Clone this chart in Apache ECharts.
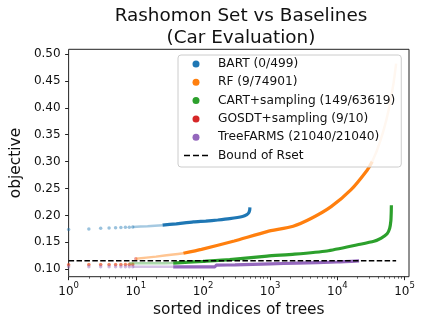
<!DOCTYPE html>
<html>
<head>
<meta charset="utf-8">
<script src="https://cdn.jsdelivr.net/npm/echarts@6/dist/echarts.min.js"></script>
<style>
  html, body { margin: 0; padding: 0; background: #fff; }
  #chart { width: 423px; height: 324px; }
</style>
</head>
<body>
<div id="chart"></div>
<script>
// values: [sorted index, objective]
const bartDots = [[1, 0.174], [2, 0.175], [3, 0.176], [4, 0.1765], [5, 0.177], [6, 0.1775], [7, 0.178], [8, 0.178], [9, 0.1785]];
const bartFaint = [[9, 0.1785], [15, 0.180], [25, 0.182]];
const bartCurve = [[25, 0.182], [40, 0.1845], [72, 0.188], [110, 0.1895], [166, 0.1915], [250, 0.194], [387, 0.198], [450, 0.2015], [480, 0.205], [495, 0.210], [499, 0.215]];

const rfDots = [[1, 0.108], [2, 0.109], [3, 0.109], [4, 0.109], [5, 0.109], [6, 0.109], [7, 0.1095], [8, 0.1095], [9, 0.110]];
const rfFaint = [[10, 0.1197], [20, 0.1235], [36, 0.1275], [51, 0.1297]];
const rfCurve = [[51, 0.1297], [95, 0.137], [292, 0.1526], [900, 0.170], [2200, 0.180], [4115, 0.1948], [8070, 0.2164], [15850, 0.2474], [27900, 0.2846], [33000, 0.300]];
const rfTop = [[33000, 0.300], [39100, 0.3217], [48900, 0.359], [57900, 0.396], [68500, 0.4457], [74901, 0.482]];

const cartFaint = [[8, 0.111], [20, 0.111], [36, 0.1115]];
const cartCurve = [[36, 0.1115], [100, 0.1148], [250, 0.118], [900, 0.1245], [2300, 0.128], [7000, 0.134], [20000, 0.1455], [35000, 0.152], [45000, 0.158], [55000, 0.166], [60000, 0.176], [62500, 0.19], [63300, 0.205], [63619, 0.219]];

const gosdtDots = [[1, 0.1085], [2, 0.1085], [3, 0.1085], [4, 0.1085], [5, 0.1085], [6, 0.1085], [7, 0.1085], [8, 0.1085], [9, 0.1085], [10, 0.1197]];

const tfDots = [[1, 0.1045], [2, 0.1045], [3, 0.1045], [4, 0.1045], [5, 0.1045], [6, 0.1045], [7, 0.1045], [8, 0.1045], [9, 0.1045]];
const tfFaint = [[9, 0.1045], [36, 0.1045]];
const tfCurve = [[36, 0.1045], [150, 0.1045], [158, 0.1077], [300, 0.108], [1000, 0.110], [2500, 0.1115], [10000, 0.1135], [21040, 0.1157]];

const bound = [[1, 0.116], [74901, 0.116]];

const names = ['BART (0/499)', 'RF (9/74901)', 'CART+sampling (149/63619)', 'GOSDT+sampling (9/10)', 'TreeFARMS (21040/21040)', 'Bound of Rset'];
const colors = ['#1f77b4', '#ff7f0e', '#2ca02c', '#d62728', '#9467bd', '#000000'];
const yTicks = [0.10, 0.15, 0.20, 0.25, 0.30, 0.35, 0.40, 0.45, 0.50];
const xTicks = [1, 10, 100, 1000, 10000, 100000];

const FONT = 'DejaVu Sans';

// minor log ticks 2..9 per decade
let xMinor = [];
for (let k = 0; k < 5; k++) {
  for (let m = 2; m < 10; m++) xMinor.push(m * Math.pow(10, k));
}

function dots(i, data) {
  return {
    name: names[i], type: 'scatter', data: data, symbolSize: 3.5, silent: true,
    itemStyle: {color: colors[i], opacity: 0.45}
  };
}
function curve(i, data, width, opacity) {
  return {
    name: names[i], type: 'line', data: data, symbol: 'none', silent: true,
    smooth: 0.2,
    lineStyle: {color: colors[i], width: width, opacity: opacity},
    itemStyle: {color: colors[i]}
  };
}

const chart = echarts.init(document.getElementById('chart'), null, {renderer: 'canvas'});

chart.setOption({
  animation: false,
  textStyle: {fontFamily: FONT},
  title: {
    text: 'Rashomon Set vs Baselines\n(Car Evaluation)',
    left: 236, top: 0, textAlign: 'center',
    textStyle: {fontFamily: FONT, fontSize: 18.4, fontWeight: 'normal', color: '#111', lineHeight: 22}
  },
  grid: {left: 63.5, right: 14, top: 49.3, bottom: 47.3, show: true, borderColor: '#222', borderWidth: 1},
  legend: {
    orient: 'vertical', left: 178, top: 55,
    padding: [2, 6, 4.5, 6], itemGap: 4.3, itemWidth: 24, itemHeight: 7,
    backgroundColor: 'rgba(255,255,255,0.8)', borderColor: '#cccccc', borderWidth: 1, borderRadius: 3,
    selectedMode: false,
    textStyle: {fontFamily: FONT, fontSize: 12.2, lineHeight: 14, color: '#111', padding: [0, 0, 0, 5]},
    data: names.map(function (n, i) {
      return i < 5
        ? {name: n, icon: 'circle', itemStyle: {color: colors[i], opacity: 1}}
        : {name: n, icon: 'path://M0,0h6v1.5h-6z M9,0h6v1.5h-6z M18,0h6v1.5h-6z', itemStyle: {color: '#000', opacity: 1}};
    })
  },
  xAxis: [{
    type: 'log', logBase: 10, min: 1, max: 116400,
    name: 'sorted indices of trees', nameLocation: 'middle', nameGap: 24,
    nameTextStyle: {fontFamily: FONT, fontSize: 15.4, color: '#111'},
    axisLine: {show: false},
    splitLine: {show: false},
    axisTick: {show: true, customValues: xTicks, length: 3.5, lineStyle: {color: '#222', width: 1}},
    axisLabel: {
      customValues: xTicks, margin: 5, color: '#111',
      formatter: function (v) { return '{b|10}{s|' + Math.round(Math.log10(v)) + '}'; },
      rich: {
        b: {fontFamily: FONT, fontSize: 12, lineHeight: 20, color: '#111'},
        s: {fontFamily: FONT, fontSize: 8.5, lineHeight: 8, verticalAlign: 'top', color: '#111'}
      }
    }
  }, {
    type: 'log', logBase: 10, min: 1, max: 116400, position: 'bottom',
    axisLine: {show: false},
    splitLine: {show: false},
    axisTick: {show: true, customValues: xMinor, length: 2, lineStyle: {color: '#222', width: 0.7}},
    axisLabel: {show: false}
  }],
  yAxis: {
    type: 'value', min: 0.0862, max: 0.5087,
    name: 'objective', nameLocation: 'middle', nameGap: 40,
    nameTextStyle: {fontFamily: FONT, fontSize: 15.4, color: '#111'},
    axisLine: {show: false},
    splitLine: {show: false},
    axisTick: {show: true, customValues: yTicks, length: 3.5, lineStyle: {color: '#222', width: 1}},
    axisLabel: {
      customValues: yTicks, margin: 8, color: '#111', fontFamily: FONT, fontSize: 12,
      formatter: function (v) { return v.toFixed(2); }
    }
  },
  series: [
    dots(0, bartDots), curve(0, bartFaint, 2.5, 0.4), curve(0, bartCurve, 3.2, 1),
    dots(1, rfDots), curve(1, rfFaint, 2.5, 0.45), curve(1, rfCurve, 3.2, 1), curve(1, rfTop, 2.5, 0.3),
    curve(2, cartFaint, 2.5, 0.4), curve(2, cartCurve, 3.2, 1),
    dots(3, gosdtDots),
    dots(4, tfDots), curve(4, tfFaint, 2.5, 0.4), curve(4, tfCurve, 3.2, 1),
    {
      name: names[5], type: 'line', data: bound, symbol: 'none', silent: true,
      lineStyle: {color: '#000', width: 1.5, type: [5.5, 2.4]}, itemStyle: {color: '#000'}
    }
  ]
});
</script>
</body>
</html>
